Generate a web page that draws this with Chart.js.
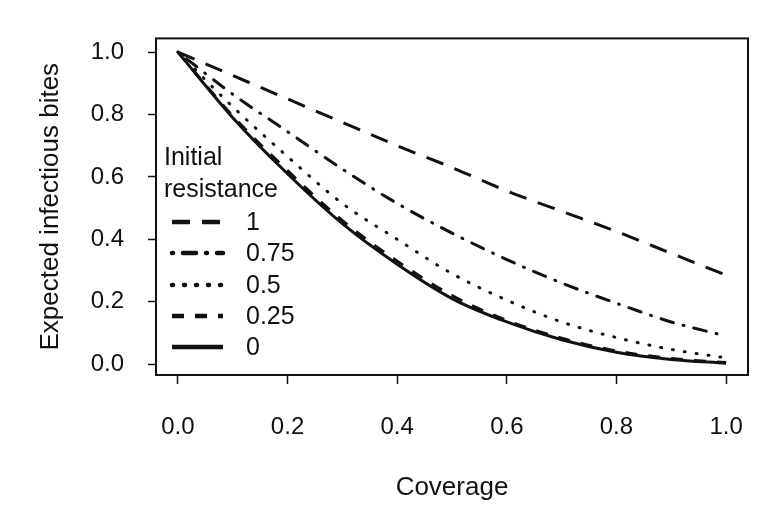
<!DOCTYPE html>
<html>
<head>
<meta charset="utf-8">
<script src="https://cdn.jsdelivr.net/npm/chart.js@4.4.1/dist/chart.umd.min.js"></script>
<style>
  html, body { margin: 0; padding: 0; background: #fff; }
</style>
</head>
<body>
<canvas id="resChart" width="782" height="520"></canvas>
<script>
const FONT = '"Liberation Sans", Arial, sans-serif';

// values
const COVERAGE = [0, 0.1, 0.2, 0.3, 0.4, 0.5, 0.6, 0.7, 0.8, 0.9, 1.0];
const RES_1    = [1, 0.925, 0.85, 0.775, 0.70, 0.63, 0.555, 0.49, 0.425, 0.355, 0.285];
const RES_075  = [1, 0.865, 0.745, 0.625, 0.515, 0.42, 0.335, 0.26, 0.195, 0.135, 0.09];
const RES_05   = [1, 0.825, 0.665, 0.515, 0.40, 0.29, 0.205, 0.135, 0.085, 0.047, 0.02];
const RES_025  = [1, 0.795, 0.62, 0.46, 0.33, 0.22, 0.14, 0.083, 0.042, 0.018, 0.005];
const RES_0    = [1, 0.79, 0.61, 0.45, 0.32, 0.21, 0.135, 0.078, 0.038, 0.015, 0.003];

const SERIES_LABELS = ['1', '0.75', '0.5', '0.25', '0'];
const X_TICKS = [0, 0.2, 0.4, 0.6, 0.8, 1.0];
const Y_TICKS = [0, 0.2, 0.4, 0.6, 0.8, 1.0];

const STYLES = [
  { dash: [18, 12], cap: 'butt' },
  { dash: [1, 10, 13, 10], cap: 'round' },
  { dash: [1, 11], cap: 'round' },
  { dash: [12, 11], cap: 'butt' },
  { dash: [], cap: 'butt' },
];

const SERIES = [RES_1, RES_075, RES_05, RES_025, RES_0];

// draw solid first so the 0.25 dashes sit on top of it
const datasets = SERIES.map((vals, i) => ({
  label: SERIES_LABELS[i],
  data: COVERAGE.map((x, j) => ({ x, y: vals[j] })),
  borderColor: '#111',
  borderWidth: 3,
  borderDash: STYLES[i].dash,
  borderCapStyle: STYLES[i].cap,
  pointRadius: 0,
  fill: false,
  cubicInterpolationMode: 'monotone',
  order: SERIES.length - i,
})).reverse();

const boxPlugin = {
  id: 'box',
  afterDraw(chart) {
    const { ctx: c, chartArea: a } = chart;
    c.save();
    c.strokeStyle = '#111';
    c.lineWidth = 2;
    c.strokeRect(a.left, a.top, a.right - a.left, a.bottom - a.top);
    c.restore();
  }
};

const legendPlugin = {
  id: 'legendInside',
  afterDraw(chart) {
    const { ctx: c, chartArea: a } = chart;
    c.save();
    c.fillStyle = '#111';
    c.font = '25px ' + FONT;
    c.textAlign = 'left';
    c.textBaseline = 'middle';
    c.fillText('Initial', a.left + 8, 158);
    c.fillText('resistance', a.left + 8, 190);
    const rowY = [222, 253, 285, 316, 347];
    SERIES_LABELS.forEach((lab, i) => {
      const y = rowY[i];
      c.beginPath();
      c.setLineDash(STYLES[i].dash);
      c.lineCap = STYLES[i].cap;
      c.lineWidth = 4.5;
      c.strokeStyle = '#111';
      c.moveTo(a.left + 16, y);
      c.lineTo(a.left + 67, y);
      c.stroke();
      c.setLineDash([]);
      c.fillText(lab, a.left + 90, y + 1);
    });
    c.restore();
  }
};

const ctx = document.getElementById('resChart').getContext('2d');
new Chart(ctx, {
  type: 'line',
  data: { datasets },
  plugins: [boxPlugin, legendPlugin],
  options: {
    responsive: false,
    animation: false,
    layout: { padding: { top: 35, right: 34, left: 0, bottom: 0 } },
    plugins: {
      legend: { display: false },
      tooltip: { enabled: false },
    },
    scales: {
      x: {
        type: 'linear',
        min: -0.04,
        max: 1.04,
        afterBuildTicks(scale) { scale.ticks = X_TICKS.map(v => ({ value: v })); },
        afterFit(scale) { scale.height = 145; },
        border: { display: false },
        grid: { drawOnChartArea: false, tickLength: 9, tickColor: '#111', tickWidth: 1.5 },
        ticks: {
          autoSkip: false, maxRotation: 0, padding: 29, color: '#111',
          font: { size: 24, family: FONT },
          callback: v => v.toFixed(1),
        },
        title: {
          display: true, text: 'Coverage', color: '#111',
          font: { size: 26, family: FONT },
          padding: { top: 0, bottom: 17 },
        },
      },
      y: {
        min: -0.035,
        max: 1.044,
        afterBuildTicks(scale) { scale.ticks = Y_TICKS.map(v => ({ value: v })); },
        afterFit(scale) { scale.width = 156; },
        border: { display: false },
        grid: { drawOnChartArea: false, tickLength: 8, tickColor: '#111', tickWidth: 1.5 },
        ticks: {
          padding: 24, color: '#111',
          font: { size: 24, family: FONT },
          callback: v => v.toFixed(1),
        },
        title: {
          display: true, text: 'Expected infectious bites', color: '#111',
          font: { size: 26, family: FONT },
          padding: { top: 35, bottom: 0 },
        },
      },
    },
  },
});
</script>
</body>
</html>
